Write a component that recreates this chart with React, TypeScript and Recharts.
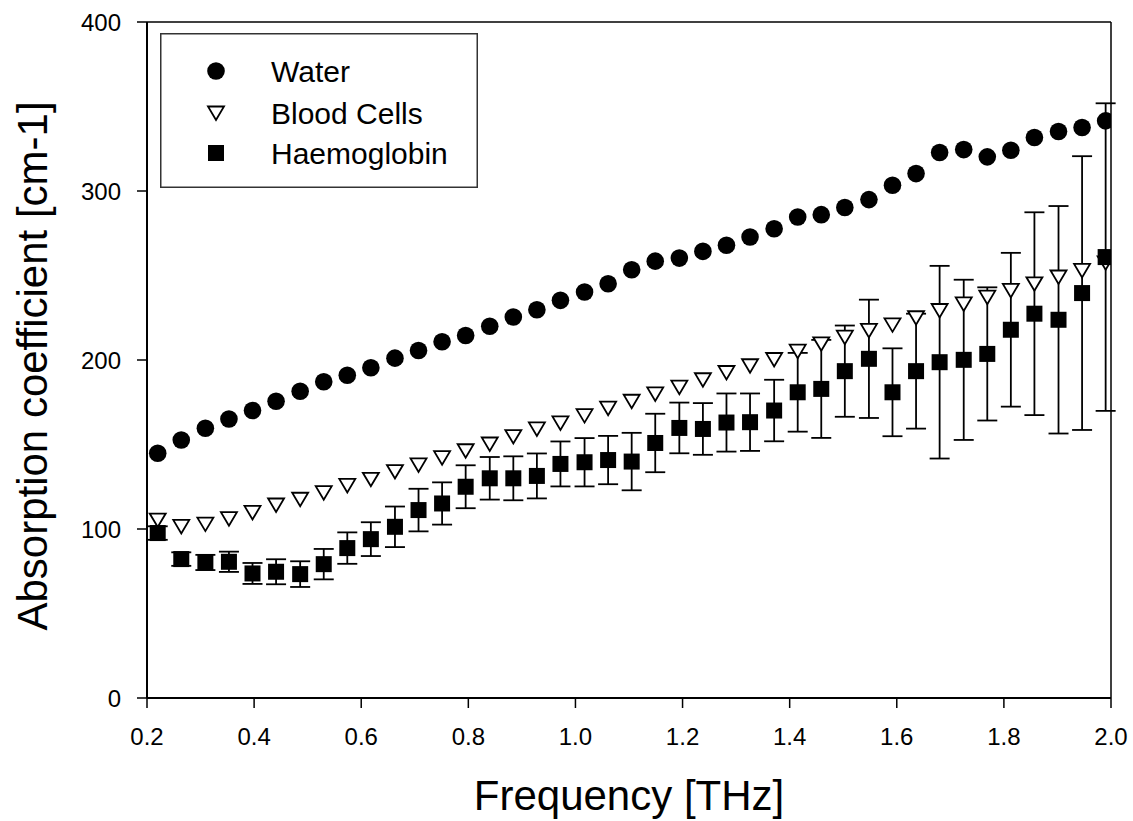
import React from "react";
import { ScatterChart, Scatter, XAxis, YAxis, ErrorBar, ReferenceLine, Legend, Label } from "recharts";

// frequency samples [THz]
const freq = [
  0.220, 0.264, 0.309, 0.353, 0.397, 0.441, 0.486, 0.530, 0.574, 0.618,
  0.663, 0.707, 0.751, 0.795, 0.840, 0.884, 0.928, 0.972, 1.017, 1.061,
  1.105, 1.149, 1.194, 1.238, 1.282, 1.326, 1.371, 1.415, 1.459, 1.503,
  1.548, 1.592, 1.636, 1.680, 1.725, 1.769, 1.813, 1.857, 1.902, 1.946, 1.990,
];

const water = [
  144.8, 152.7, 159.6, 165.1, 170.1, 175.6, 181.5, 187.1, 191.0, 195.4,
  201.1, 205.6, 210.8, 214.5, 220.0, 225.4, 229.7, 235.3, 240.2, 245.1,
  253.4, 258.5, 260.3, 264.3, 267.9, 272.8, 277.7, 284.6, 286.0, 290.2,
  294.9, 303.4, 310.3, 322.8, 324.5, 320.2, 324.1, 331.7, 335.2, 337.6, 341.5,
];

const bloodCells = [
  105.3, 101.5, 102.9, 106.1, 109.8, 114.2, 117.6, 121.5, 125.8, 129.4,
  134.0, 137.9, 142.2, 146.3, 150.3, 154.7, 159.2, 162.8, 167.1, 171.5,
  175.6, 179.9, 183.9, 188.3, 192.6, 196.6, 200.3, 205.2, 209.6, 213.5,
  217.5, 220.8, 225.0, 229.3, 233.2, 237.2, 241.2, 245.1, 249.1, 253.0, 257.5,
];

const haemoglobin = [
  97.6, 82.2, 80.2, 80.6, 73.7, 74.7, 73.3, 79.2, 88.7, 94.0,
  101.3, 111.2, 115.1, 125.0, 130.0, 130.0, 131.4, 138.5, 139.5, 140.8,
  139.9, 150.9, 159.8, 159.2, 163.0, 163.2, 170.1, 180.9, 182.9, 193.4,
  200.7, 180.9, 193.4, 198.7, 200.1, 203.6, 217.9, 227.4, 223.8, 239.6, 260.9,
];

const haemoglobinErr = [
  4.0, 4.0, 4.5, 6.0, 6.2, 7.4, 7.6, 9.0, 9.3, 10.0,
  12.0, 12.6, 12.5, 12.7, 12.6, 13.0, 13.3, 13.3, 14.3, 14.3,
  17.0, 17.3, 15.0, 15.3, 17.2, 17.0, 18.2, 23.3, 29.0, 27.0,
  35.0, 26.0, 34.0, 57.0, 47.4, 39.4, 45.5, 60.0, 67.3, 81.0, 91.0,
];

const xTicks = [0.2, 0.4, 0.6, 0.8, 1.0, 1.2, 1.4, 1.6, 1.8, 2.0];
const yTicks = [0, 100, 200, 300, 400];

const font = "'Liberation Sans', Arial, sans-serif";

const waterData = freq.map((x, i) => ({ x, y: water[i] }));
const bloodData = freq.map((x, i) => ({ x, y: bloodCells[i] }));
const haemData = freq.map((x, i) => ({ x, y: haemoglobin[i], err: haemoglobinErr[i] }));

const Dot = (p: any) => <circle cx={p.cx} cy={p.cy} r={8.8} fill="#000" />;
const Tri = (p: any) => (
  <polygon
    points={`${p.cx - 8},${p.cy - 6.5} ${p.cx + 8},${p.cy - 6.5} ${p.cx},${p.cy + 7}`}
    fill="#fff"
    stroke="#000"
    strokeWidth={1.8}
  />
);
const Sq = (p: any) => <rect x={p.cx - 8} y={p.cy - 8} width={16} height={16} fill="#000" />;

function LegendBox() {
  const rows = [
    { label: "Water", cy: 38, icon: (cx: number, cy: number) => <Dot cx={cx} cy={cy} /> },
    { label: "Blood Cells", cy: 80, icon: (cx: number, cy: number) => <Tri cx={cx} cy={cy} /> },
    { label: "Haemoglobin", cy: 120, icon: (cx: number, cy: number) => <Sq cx={cx} cy={cy} /> },
  ];
  return (
    <svg width={318} height={155} style={{ display: "block" }}>
      <rect x={0.75} y={0.75} width={316.5} height={153.5} fill="#fff" stroke="#333" strokeWidth={1.5} />
      {rows.map((r) => (
        <g key={r.label}>
          {r.icon(56, r.cy)}
          <text x={111} y={r.cy + 11} fontSize={30} fontFamily={font} fill="#000">
            {r.label}
          </text>
        </g>
      ))}
    </svg>
  );
}

export default function App() {
  return (
    <div style={{ position: "absolute", left: 0, top: 0, background: "#fff" }}>
      <ScatterChart width={1133} height={821} margin={{ top: 22, right: 22, bottom: 0, left: 0 }}>
        <XAxis
          type="number"
          dataKey="x"
          domain={[0.2, 2.0]}
          ticks={xTicks}
          allowDataOverflow
          tickFormatter={(v: number) => v.toFixed(1)}
          height={123}
          axisLine={{ stroke: "#000", strokeWidth: 2 }}
          tickLine={{ stroke: "#000", strokeWidth: 1.5 }}
          tickSize={10}
          tickMargin={20}
          tick={{ fill: "#000", fontSize: 24, fontFamily: font }}
        >
          <Label
            content={({ viewBox }: any) => (
              <text
                x={viewBox.x + viewBox.width / 2}
                y={viewBox.y + 112}
                textAnchor="middle"
                fontSize={42}
                fontFamily={font}
                fill="#000"
              >
                Frequency [THz]
              </text>
            )}
          />
        </XAxis>
        <YAxis
          type="number"
          dataKey="y"
          domain={[0, 400]}
          ticks={yTicks}
          allowDataOverflow
          width={147}
          axisLine={{ stroke: "#000", strokeWidth: 2 }}
          tickLine={{ stroke: "#000", strokeWidth: 1.5 }}
          tickSize={10}
          tickMargin={16}
          tick={{ fill: "#000", fontSize: 24, fontFamily: font }}
        >
          <Label
            content={({ viewBox }: any) => {
              const tx = viewBox.x + 47;
              const ty = 366;
              return (
                <text
                  x={tx}
                  y={ty}
                  transform={`rotate(-90 ${tx} ${ty})`}
                  textAnchor="middle"
                  fontSize={42}
                  fontFamily={font}
                  fill="#000"
                >
                  Absorption coefficient [cm-1]
                </text>
              );
            }}
          />
        </YAxis>
        <ReferenceLine y={400} stroke="#000" strokeWidth={1.5} />
        <ReferenceLine x={2.0} stroke="#000" strokeWidth={1.5} />
        <Scatter name="Blood Cells" data={bloodData} shape={Tri} isAnimationActive={false} />
        <Scatter name="Haemoglobin" data={haemData} shape={Sq} isAnimationActive={false}>
          <ErrorBar dataKey="err" direction="y" width={10} stroke="#000" strokeWidth={1.8} isAnimationActive={false} />
        </Scatter>
        <Scatter name="Water" data={waterData} shape={Dot} isAnimationActive={false} />
        <Legend
          layout="vertical"
          align="center"
          verticalAlign="middle"
          wrapperStyle={{ left: 160, top: 33, width: 318, height: 155 }}
          content={() => <LegendBox />}
        />
      </ScatterChart>
    </div>
  );
}
